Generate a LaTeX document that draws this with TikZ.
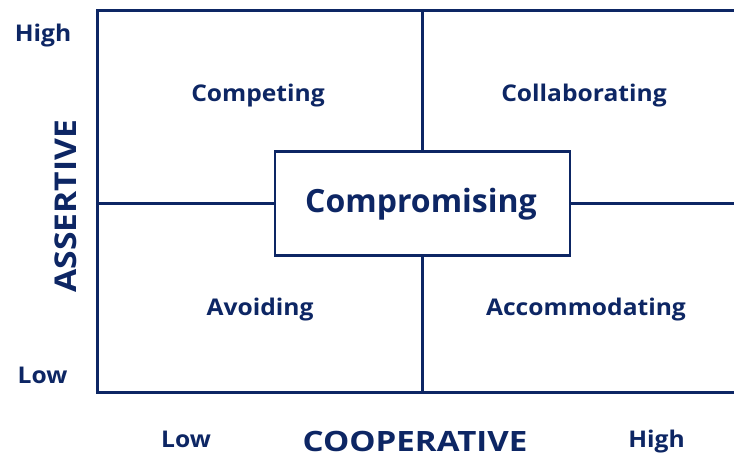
\documentclass[tikz,border=0pt]{standalone}
\usepackage{fontspec}
\setmainfont{Open Sans}
\newfontfamily\widefont[FakeStretch=1.07]{Open Sans}
\newfontfamily\axisfont[FakeStretch=1.12]{Open Sans}
\newfontfamily\coopfont[FakeStretch=1.18]{Open Sans}
\definecolor{navy}{RGB}{13,38,100}
\tikzset{
  grid/.style={draw=navy, line width=3pt},
  inner/.style={draw=navy, line width=2.2pt},
  lbl/.style={text=navy, font=\widefont\bfseries\fontsize{23}{26}\selectfont, inner sep=0pt, anchor=base},
  axis/.style={text=navy, font=\axisfont\bfseries\fontsize{30}{34}\selectfont, inner sep=0pt, anchor=base},
  centerbox/.style={draw=navy, line width=2.2pt, fill=white, minimum width=295pt, minimum height=104pt, inner sep=0pt}
}
\begin{document}
\begin{tikzpicture}[x=1pt,y=-1pt]
\useasboundingbox[fill=white] (0,0) rectangle (734,457);
% grid corners
\coordinate (tl) at (97.5,10.5);
\coordinate (tr) at (740,10.5);
\coordinate (bl) at (97.5,392.5);
\coordinate (br) at (740,392.5);
\coordinate (mt) at (422.5,10.5);
\coordinate (mb) at (422.5,392.5);
\coordinate (ml) at (97.5,203.5);
\coordinate (mr) at (740,203.5);
\draw[grid] (tr) -- (tl) -- (bl) -- (br);
\node[centerbox] (comp) at (422.5,203.5) {};
\draw[inner] (mt) -- (comp.north);
\draw[inner] (comp.south) -- (mb);
\draw[inner] (ml) -- (comp.west);
\draw[inner] (comp.east) -- (mr);
\node[lbl, font=\bfseries\fontsize{32}{36}\selectfont] (comptxt) at (421,212.5) {Compromising};
% quadrant labels
\node[lbl] (competing) at (258,101.5) {Competing};
\node[lbl] (collab) at (584,101.5) {Collaborating};
\node[lbl] (avoid) at (260,315.5) {Avoiding};
\node[lbl] (accom) at (586,315.5) {Accommodating};
% axis labels
\node[lbl] (yhigh) at (43,42) {High};
\node[lbl] (ylow) at (42.5,383) {Low};
\node[lbl] (xlow) at (186,447) {Low};
\node[lbl] (xhigh) at (656.5,447) {High};
\node[axis, rotate=90] (assert) at (76,206) {ASSERTIVE};
\node[axis, font=\coopfont\bfseries\fontsize{28}{32}\selectfont] (coop) at (415,451) {COOPERATIVE};
\end{tikzpicture}
\end{document}
